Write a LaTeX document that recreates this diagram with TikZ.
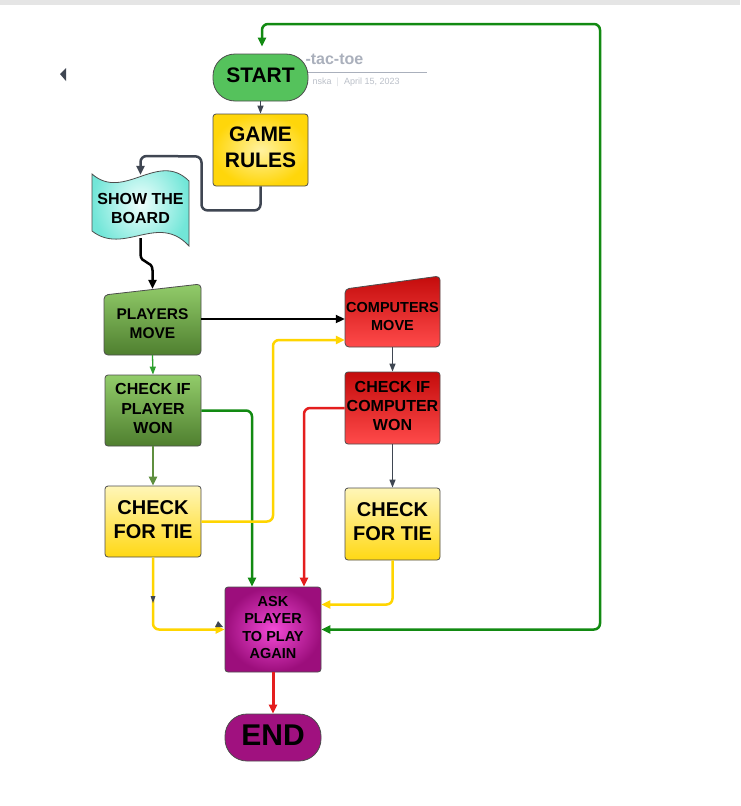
\documentclass[tikz,border=0pt]{standalone}
\usepackage{fontspec}
\setmainfont{Liberation Sans}
\usetikzlibrary{arrows.meta}
\definecolor{bordergray}{HTML}{4D4D4D}
\definecolor{congray}{HTML}{3F4652}
\definecolor{startgreen}{HTML}{55C25C}
\definecolor{rulesin}{HTML}{FFF2A0}
\definecolor{rulesout}{HTML}{FFD60A}
\definecolor{cyanin}{HTML}{F0FFFD}
\definecolor{cyanout}{HTML}{72E6D8}
\definecolor{gtop}{HTML}{92CC6A}
\definecolor{gbot}{HTML}{4F7F2F}
\definecolor{rtop}{HTML}{C40C0C}
\definecolor{rbot}{HTML}{FF4A4A}
\definecolor{ttop}{HTML}{FFF6B8}
\definecolor{tbot}{HTML}{FFD814}
\definecolor{askin}{HTML}{F24AD6}
\definecolor{askout}{HTML}{9C0E7C}
\definecolor{endfill}{HTML}{A0117F}
\definecolor{cgreen}{HTML}{128A12}
\definecolor{cgreenl}{HTML}{2DA02D}
\definecolor{colive}{HTML}{5F8F3F}
\definecolor{cyellow}{HTML}{FFD500}
\definecolor{cred}{HTML}{E41E1E}
\definecolor{titlegray}{HTML}{AAB0BC}
\begin{document}
\begin{tikzpicture}[x=1pt,y=-1pt,
  box/.style={rectangle,rounded corners=3pt,draw=bordergray,line width=0.8pt,
    inner sep=0pt,align=center,minimum width=96pt,minimum height=72pt,text depth=4pt},
  ghost/.style={rectangle,inner sep=0pt,align=center,minimum width=96pt},
  pill/.style={rectangle,rounded corners=22pt,draw=bordergray,line width=0.8pt,
    inner sep=0pt,align=center,minimum width=95pt,minimum height=47pt,text depth=4pt},
  fs/.style n args={2}{font=\fontsize{#1}{#2}\selectfont\bfseries},
  tipb/.style={-{Triangle[length=9pt,width=8pt]}},
  tips/.style={-{Triangle[length=8pt,width=6pt]}},
  con/.style={line width=2.5pt,rounded corners=6pt},
  thin/.style={line width=1.3pt,congray}
]
\useasboundingbox (0,0) rectangle (740,806);
\fill[white] (0,0) rectangle (740,806);
\fill[black!10] (0,0) rectangle (740,5);

% title remnants
\node[anchor=base west,text=titlegray,fs={16}{19}] (ttl) at (302,64.5) {-tac-toe};
\draw[titlegray,line width=1pt] (296,72) -- (427,72);
\node[anchor=base west,text=titlegray!80,font=\fontsize{9}{11}\selectfont] (sub) at (309,84.5) {nska \ $|$ \ April 15, 2023};
\fill[congray] (66,68) -- (60,74) -- (66,81) -- cycle;

% shapes drawn directly
\shade[inner color=cyanin,outer color=cyanout,draw=bordergray,line width=0.8pt]
  (92,174) .. controls (124,202) and (158,150) .. (189,181) -- (189,246)
  .. controls (158,212) and (124,256) .. (92,231) -- cycle;
\shade[top color=gtop,bottom color=gbot,draw=bordergray,line width=0.8pt,rounded corners=4pt]
  (104,295) -- (201,284) -- (201,355) -- (104,355) -- cycle;
\shade[top color=rtop,bottom color=rbot,draw=bordergray,line width=0.8pt,rounded corners=4pt]
  (345,289) -- (440,276) -- (440,347) -- (345,347) -- cycle;

% nodes
\node[pill,fill=startgreen,fs={21}{25}] (start) at (260.5,77.5) {START};
\node[box,inner color=rulesin,outer color=rulesout,minimum width=95pt,text depth=6pt,fs={21}{26}] (rules) at (260.5,150) {GAME\\RULES};
\node[ghost,minimum height=72pt,text depth=4pt,fs={16}{19}] (show) at (140.5,210) {SHOW THE\\BOARD};
\node[ghost,minimum height=62pt,minimum width=97pt,fs={15.5}{19}] (pm) at (152.5,324) {PLAYERS\\MOVE};
\node[ghost,minimum height=60pt,minimum width=95pt,fs={14.5}{18}] (cm) at (392.5,317) {COMPUTERS\\MOVE};
\node[box,top color=gtop,bottom color=gbot,minimum height=71pt,fs={16}{19.5}] (cpw) at (153,410.5) {CHECK IF\\PLAYER\\WON};
\node[box,top color=rtop,bottom color=rbot,minimum width=95pt,fs={16}{19}] (ccw) at (392.5,408) {CHECK IF\\COMPUTER\\WON};
\node[box,top color=ttop,bottom color=tbot,minimum height=71pt,fs={20}{24}] (tiel) at (153,521.5) {CHECK\\FOR TIE};
\node[box,top color=ttop,bottom color=tbot,minimum width=95pt,fs={20}{24}] (tier) at (392.5,524) {CHECK\\FOR TIE};
\node[box,inner color=askin,outer color=askout,minimum height=85pt,fs={14.5}{17.5}] (ask) at (273,629.5) {ASK\\PLAYER\\TO PLAY\\AGAIN};
\node[pill,fill=endfill,minimum width=96pt,fs={30}{34}] (end) at (273,737.5) {END};

% helper coordinates
\coordinate (sb) at ([yshift=8pt]show.south);
\coordinate (pmn) at ([yshift=4pt]pm.north);
\coordinate (pme) at ([yshift=5pt]pm.east);
\coordinate (cmy) at ([yshift=-23pt]cm.west);
\coordinate (ae1) at ([yshift=25pt]ask.east);
\coordinate (rt) at (600,24);
\coordinate (st) at ([xshift=1.5pt,yshift=7pt]start.north);
\coordinate (rsn) at ([yshift=-1pt]show.north);

% connectors
\draw[thin,tips] (start.south) -- (rules.north);
\draw[congray,line width=2.5pt,rounded corners=6pt,tipb]
  (rules.south) -- ++(0,24) -- ++(-59,0) -- ++(0,-54) -- (rsn |- 0,156) -- (rsn);
\draw[black,line width=2.5pt,tipb]
  (sb) -- ++(0,16) .. controls +(0,10) and +(0,-10) .. ++(12,16) -- (pmn);
\draw[black,line width=2pt,tipb] (pme) -- (pme -| cm.west);
\draw[cgreenl,line width=1.3pt,tips] (pm.south) -- (cpw.north);
\draw[colive,con,tipb] (cpw.south) -- (tiel.north);
\draw[cgreen,con,tipb] (cpw.east) -| ([xshift=-21pt]ask.north);
\draw[cyellow,con,tipb] (tiel.east) -| (ask.north |- cmy) -- (cmy);
\draw[thin,tips] (cm.south) -- (ccw.north);
\draw[cred,con,tipb] (ccw.west) -| ([xshift=31pt]ask.north);
\draw[thin,tips] (ccw.south) -- (tier.north);
\draw[cyellow,con,tipb] (tier.south) |- (ae1);
\draw[cyellow,con,tipb] (tiel.south) |- (ask.west);
\draw[cgreen,con,{Triangle[length=9pt,width=8pt]}-{Triangle[length=9pt,width=8pt]}]
  (ask.east) -| (rt) -| (st);
\draw[cred,line width=3pt,tipb] (ask.south) -- (end.north);

% small stray tips
\fill[congray] (150.5,596) -- (155.5,596) -- (153,603) -- cycle;
\fill[congray] (218,621) -- (223,627) -- (215,627) -- cycle;
\end{tikzpicture}
\end{document}
